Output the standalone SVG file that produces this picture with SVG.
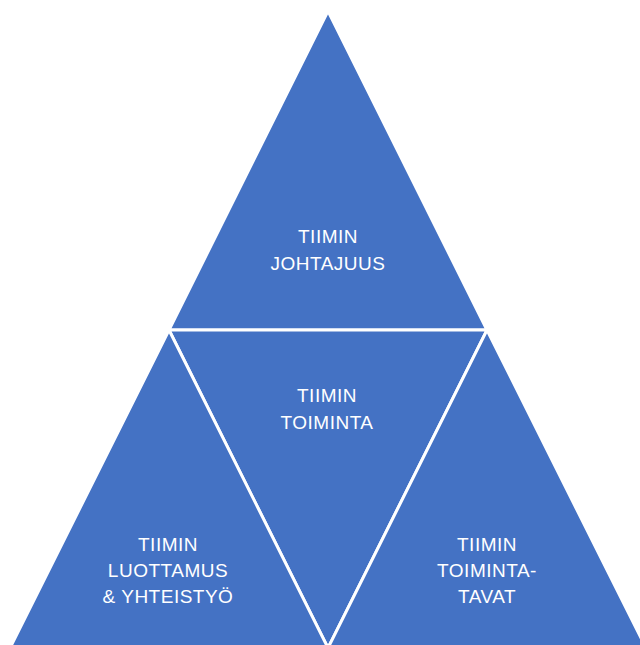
<svg xmlns="http://www.w3.org/2000/svg" width="640" height="645" viewBox="0 0 640 645">
<style>
.tri{fill:#4472C4;stroke:#FFFFFF;stroke-width:3;stroke-linejoin:miter}
.lbl{font-family:"Liberation Sans",Arial,sans-serif;font-size:19px;letter-spacing:0.5px;fill:#FFFFFF;text-anchor:middle}
</style>
<rect width="640" height="645" fill="#FFFFFF"/>
<g id="top">
<polygon class="tri" points="328,11 487,330 169,330"/>
<text class="lbl" x="328" y="243">TIIMIN</text>
<text class="lbl" x="328" y="270">JOHTAJUUS</text>
</g>
<g id="middle">
<polygon class="tri" points="169,330 487,330 328,648"/>
<text class="lbl" x="327" y="402">TIIMIN</text>
<text class="lbl" x="327" y="429">TOIMINTA</text>
</g>
<g id="left">
<polygon class="tri" points="169,330 328,648 10,648"/>
<text class="lbl" x="168" y="551">TIIMIN</text>
<text class="lbl" x="168" y="577">LUOTTAMUS</text>
<text class="lbl" x="168" y="603">&amp; YHTEISTYÖ</text>
</g>
<g id="right">
<polygon class="tri" points="487,330 646,648 328,648"/>
<text class="lbl" x="487" y="551">TIIMIN</text>
<text class="lbl" x="487" y="577">TOIMINTA-</text>
<text class="lbl" x="487" y="603">TAVAT</text>
</g>
<g id="connectors"/>
</svg>
